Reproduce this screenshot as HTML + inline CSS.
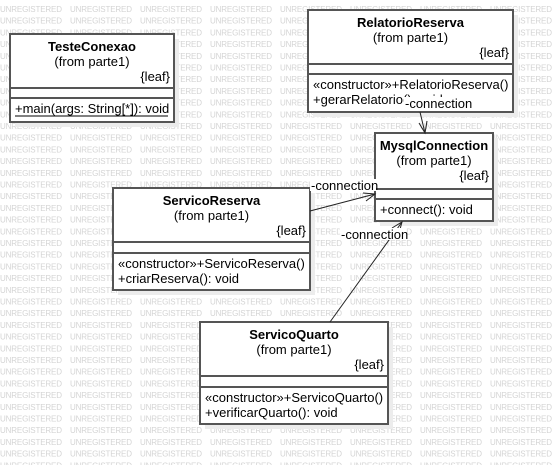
<!DOCTYPE html>
<html><head><meta charset="utf-8"><style>
html,body{margin:0;padding:0;background:#fff;}
svg{display:block;font-family:"Liberation Sans",Arial,sans-serif;}
</style></head><body>
<svg width="554" height="465" viewBox="0 0 554 465">
<g id="wm" fill="#d4d4d4" font-size="8"></g>
<g id="boxes"></g>
<g stroke="#222" stroke-width="1" fill="none">
  <line x1="420" y1="112" x2="425" y2="133"/>
  <polyline points="419,123 425,133 427,121"/>
  <line x1="310" y1="211" x2="375" y2="194"/>
  <polyline points="363,193 375,194 366,201"/>
  <line x1="330" y1="322" x2="402" y2="222"/>
  <polyline points="392,228 402,222 399,233"/>
</g>
<g fill="#fff">
  <rect x="404" y="97" width="66" height="12"/>
  <rect x="310" y="179" width="66" height="12"/>
  <rect x="340" y="228" width="66" height="12"/>
</g>
<g font-size="13" fill="#000">
  <text x="405" y="108">-connection</text>
  <text x="311" y="190">-connection</text>
  <text x="341" y="239">-connection</text>
</g>
</svg>
<script>
var NS='http://www.w3.org/2000/svg';
var wm=document.getElementById('wm');
for(var r=0;r<40;r++){for(var c=0;c<9;c++){var t=document.createElementNS(NS,'text');
t.setAttribute('x',0+c*70);t.setAttribute('y',12+r*11.7);t.setAttribute('textLength','62');t.textContent='UNREGISTERED';


wm.appendChild(t);}}
var boxes=[
 {n:'teste-conexao',x:10,y:34,w:164,h:88,name:'TesteConexao',d1:88,d2:98,m:['+main(args: String[*]): void'],u:true},
 {n:'relatorio-reserva',x:308,y:10,w:205,h:102,name:'RelatorioReserva',d1:64,d2:74,m:['«constructor»+RelatorioReserva()','+gerarRelatorio(): void']},
 {n:'mysql-connection',x:375,y:133,w:118,h:88,name:'MysqlConnection',d1:189,d2:199,m:['+connect(): void']},
 {n:'servico-reserva',x:113,y:188,w:197,h:102,name:'ServicoReserva',d1:242,d2:253,m:['«constructor»+ServicoReserva()','+criarReserva(): void']},
 {n:'servico-quarto',x:200,y:322,w:188,h:102,name:'ServicoQuarto',d1:376,d2:387,m:['«constructor»+ServicoQuarto()','+verificarQuarto(): void']}
];
var bg=document.getElementById('boxes');
function el(tag,a,txt){var e=document.createElementNS(NS,tag);for(var k in a)e.setAttribute(k,a[k]);if(txt)e.textContent=txt;return e;}
boxes.forEach(function(b){
 var g=el('g',{});
 
 
 g.appendChild(el('rect',{x:b.x+5,y:b.y+5,width:b.w,height:b.h,fill:'#ececec'}));
 g.appendChild(el('rect',{x:b.x,y:b.y,width:b.w,height:b.h,fill:'#fff',stroke:'#555','stroke-width':2}));
 g.appendChild(el('line',{x1:b.x,x2:b.x+b.w,y1:b.d1,y2:b.d1,stroke:'#555','stroke-width':2}));
 g.appendChild(el('line',{x1:b.x,x2:b.x+b.w,y1:b.d2,y2:b.d2,stroke:'#555','stroke-width':2}));
 var cx=b.x+b.w/2;
 g.appendChild(el('text',{x:cx,y:b.y+17,'text-anchor':'middle','font-size':13,'font-weight':'bold'},b.name));
 g.appendChild(el('text',{x:cx,y:b.y+32,'text-anchor':'middle','font-size':13},'(from parte1)'));
 g.appendChild(el('text',{x:b.x+b.w-4,y:b.y+47,'text-anchor':'end','font-size':13},'{leaf}'));
 b.m.forEach(function(s,i){
  var yy=b.d2+15+i*15;
  g.appendChild(el('text',{x:b.x+5,y:yy,'font-size':13},s));
  if(b.u)g.appendChild(el('line',{x1:b.x+5,x2:b.x+b.w-6,y1:yy+3,y2:yy+3,stroke:'#000','stroke-width':1}));
 });
 bg.appendChild(g);
});
</script>
</body></html>
